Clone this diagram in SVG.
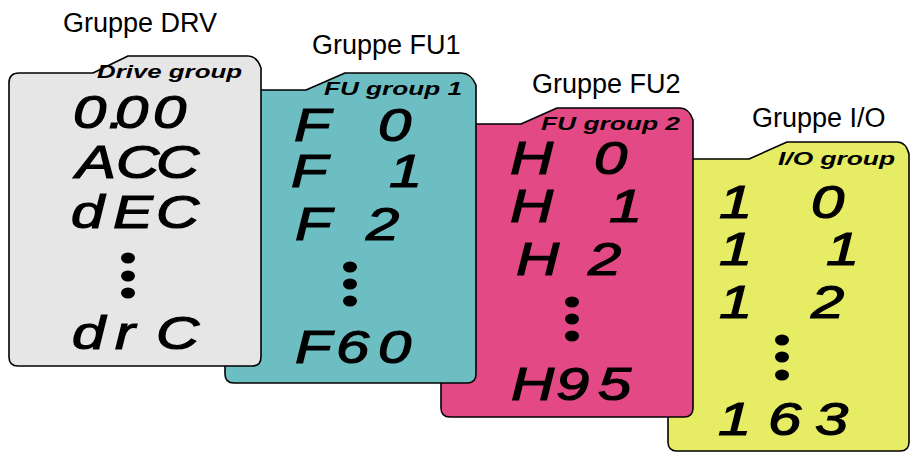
<svg xmlns="http://www.w3.org/2000/svg" width="912" height="452" viewBox="0 0 912 452">
<style>
.card{stroke:#000;stroke-width:1.6;stroke-linejoin:round}
.hdr{font-family:"Liberation Sans",Arial,sans-serif;font-size:27px;fill:#000}
.grp{font-family:"Liberation Sans",Arial,sans-serif;font-size:18px;font-weight:bold;font-style:italic;fill:#000}
.seg{font-family:"Liberation Sans",Arial,sans-serif;font-size:46px;font-weight:normal;font-style:italic;fill:#000;stroke:#000;stroke-width:1.2}
.dot{fill:#000}
</style>
<rect width="912" height="452" fill="#fff"/>

<g id="io-card">
<path class="card" fill="#E6EC63" d="M668,169 Q668,159 678,159 L749,159 L787,142 L897,142 Q906,142 909,154 L909,442 Q909,451 900,451 L677,451 Q668,451 668,442 Z"/>
<text class="grp" x="778" y="165" textLength="117" lengthAdjust="spacingAndGlyphs">I/O group</text>
<g transform="scale(1.3,1)">
<text class="seg" x="553.1 580 623.8" y="218">1 0</text>
<text class="seg" x="553.1 580 635.4" y="265">1 1</text>
<text class="seg" x="553.1 580 623.8" y="318">1 2</text>
<text class="seg" x="552.3 590.8 626.9" y="435">163</text>
</g>
<ellipse class="dot" cx="782" cy="340" rx="7" ry="5.5"/>
<ellipse class="dot" cx="782" cy="357" rx="7" ry="5.5"/>
<ellipse class="dot" cx="782" cy="375" rx="7" ry="5.5"/>
</g>

<g id="fu2-card">
<path class="card" fill="#E34A85" d="M441,134 Q441,124 451,124 L521,124 L557,108 L680,108 Q689,108 693,120 L693,408 Q693,417 684,417 L450,417 Q441,417 441,408 Z"/>
<text class="grp" x="541" y="130" textLength="139" lengthAdjust="spacingAndGlyphs">FU group 2</text>
<g transform="scale(1.3,1)">
<text class="seg" x="392.3 420 456.9" y="174">H 0</text>
<text class="seg" x="392.3 420 468.5" y="222">H 1</text>
<text class="seg" x="396.9 420 452.3" y="275">H 2</text>
<text class="seg" x="393.1 427.7 460" y="400">H95</text>
</g>
<ellipse class="dot" cx="572" cy="302" rx="7" ry="5.5"/>
<ellipse class="dot" cx="572" cy="319" rx="7" ry="5.5"/>
<ellipse class="dot" cx="572" cy="336" rx="7" ry="5.5"/>
</g>

<g id="fu1-card">
<path class="card" fill="#6DBEC2" d="M225,100 Q225,90 235,90 L306,90 L345,73 L461,73 Q471,73 476,85 L476,374 Q476,383 467,383 L234,383 Q225,383 225,374 Z"/>
<text class="grp" x="324" y="95" textLength="138" lengthAdjust="spacingAndGlyphs">FU group 1</text>
<g transform="scale(1.3,1)">
<text class="seg" x="226.2 250 290.8" y="141">F 0</text>
<text class="seg" x="223.8 250 299.2" y="187">F 1</text>
<text class="seg" x="226.9 250 281.5" y="240">F 2</text>
<text class="seg" x="226.9 258.5 290.8" y="363">F60</text>
</g>
<ellipse class="dot" cx="350" cy="267" rx="7" ry="5.5"/>
<ellipse class="dot" cx="350" cy="284" rx="7" ry="5.5"/>
<ellipse class="dot" cx="350" cy="301" rx="7" ry="5.5"/>
</g>

<g id="drv-card">
<path class="card" fill="#E6E6E6" d="M9,83 Q9,73 19,73 L93,73 L128,56 L248,56 Q257,56 261,68 L261,357 Q261,366 252,366 L18,366 Q9,366 9,357 Z"/>
<text class="grp" x="97" y="78" textLength="145" lengthAdjust="spacingAndGlyphs">Drive group</text>
<g transform="scale(1.3,1)">
<text class="seg" x="56.2 83.1 88.5 117.7" y="128">0.00</text>
<text class="seg" x="58.5 89.2 120" y="178">ACC</text>
<text class="seg" x="54.6 86.9 120" y="228">dEC</text>
<text class="seg" x="55.4 88.5 120" y="349">drC</text>
</g>
<ellipse class="dot" cx="128" cy="258" rx="7" ry="5.5"/>
<ellipse class="dot" cx="128" cy="276" rx="7" ry="5.5"/>
<ellipse class="dot" cx="128" cy="293" rx="7" ry="5.5"/>
</g>

<g id="headers">
<text class="hdr" x="63" y="32">Gruppe DRV</text>
<text class="hdr" x="312" y="54">Gruppe FU1</text>
<text class="hdr" x="532" y="93">Gruppe FU2</text>
<text class="hdr" x="752" y="127">Gruppe I/O</text>
</g>
</svg>
